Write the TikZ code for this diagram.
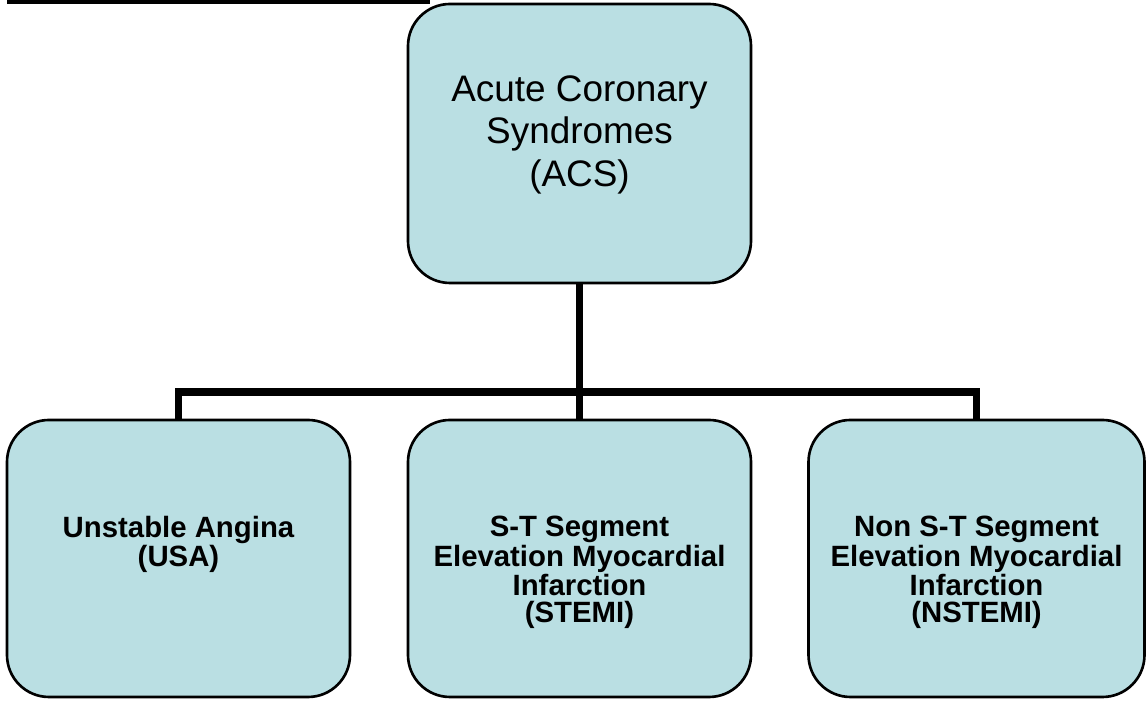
\documentclass[tikz,border=0pt]{standalone}
\usepackage{fontspec}
\setmainfont{Liberation Sans}
\definecolor{boxblue}{RGB}{186,223,227}

\begin{document}
\begin{tikzpicture}[
  acsbox/.style={draw, line width=1.5pt, fill=boxblue, rounded corners=0.84cm,
    minimum width=6.86cm, minimum height=5.54cm, inner sep=0pt},
  toptext/.style={anchor=north, align=center, inner sep=0pt,
    font=\fontsize{21}{24.4}\selectfont},
  subtext/.style={anchor=north, align=center, inner sep=0pt,
    font=\fontsize{16.7}{15.5}\selectfont\bfseries},
  link/.style={line width=4pt}]
  \useasboundingbox (0,0) rectangle (22.92,14.04);
  \fill (0.14,13.95) rectangle (8.6,14.1);

  % top box
  \node[acsbox, minimum height=5.58cm] (acs) at (11.59,11.17) {};
  \node[toptext] (acstext) at (11.59,12.54) {Acute Coronary\\Syndromes\\(ACS)};

  % bottom boxes
  \node[acsbox] (usa) at (3.57,2.87) {};
  \node[acsbox] (stemi) at (11.59,2.87) {};
  \node[acsbox, minimum width=6.72cm] (nstemi) at (19.53,2.87) {};
  \node[subtext] (usatext) at (3.57,3.72) {Unstable Angina\\(USA)};
  \node[subtext] (stemitext) at (11.59,3.72)
     {S-T Segment\\Elevation Myocardial\\Infarction\\(STEMI)};
  \node[subtext] (nstemitext) at (19.53,3.72)
     {Non S-T Segment\\Elevation Myocardial\\Infarction\\(NSTEMI)};

  % connectors
  \coordinate (fork) at (11.59,6.2);
  \draw[link] (acs.south) -- (stemi.north);
  \draw[link] (usa.north) |- (fork) -| (nstemi.north);
\end{tikzpicture}
\end{document}
